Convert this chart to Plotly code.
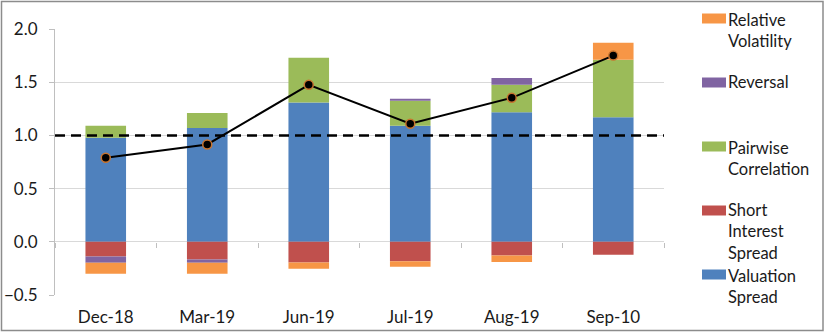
import plotly.graph_objects as go

categories = ["Dec-18", "Mar-19", "Jun-19", "Jul-19", "Aug-19", "Sep-10"]
valuation_spread = [0.977, 1.07, 1.31, 1.09, 1.218, 1.17]
short_interest_spread = [-0.138, -0.166, -0.195, -0.182, -0.129, -0.122]
pairwise_correlation = [0.113, 0.14, 0.42, 0.235, 0.257, 0.54]
reversal = [-0.059, -0.03, 0.0, 0.02, 0.065, 0.0]
relative_volatility = [-0.103, -0.104, -0.059, -0.053, -0.061, 0.16]
composite = [0.79, 0.915, 1.475, 1.11, 1.353, 1.75]
threshold = 1.0

series = [
    ("Valuation Spread", "Valuation<br>Spread", valuation_spread, "#4F81BD"),
    ("Short Interest Spread", "Short<br>Interest<br>Spread", short_interest_spread, "#C0504D"),
    ("Pairwise Correlation", "Pairwise<br>Correlation", pairwise_correlation, "#9BBB59"),
    ("Reversal", "Reversal", reversal, "#8064A2"),
    ("Relative Volatility", "Relative<br>Volatility", relative_volatility, "#F79646"),
]

W, H = 825, 332
ML, MR, MT, MB = 55, 161, 29, 37
PW, PH = W - ML - MR, H - MT - MB

def px_x(p):
    return (p - ML) / PW

def px_y(p):
    return (H - MB - p) / PH

FONT = "Lato, 'Open Sans', sans-serif"
TXT = "#1a1a1a"

fig = go.Figure()
for name, _, vals, color in series:
    fig.add_trace(go.Bar(x=categories, y=vals, name=name, marker_color=color,
                         marker_line_width=0, width=0.4, showlegend=False))

fig.add_trace(go.Scatter(x=categories, y=composite, mode="lines+markers",
                         xaxis="x2",
                         line=dict(color="black", width=2),
                         marker=dict(color="black", size=9,
                                     line=dict(color="#C8742F", width=1.5)),
                         showlegend=False, name="Composite"))

shapes = [
    dict(type="line", xref="paper", x0=0, x1=1, yref="y", y0=threshold, y1=threshold,
         line=dict(color="black", width=2.5, dash="10px,6px"), layer="above"),
    dict(type="rect", xref="paper", yref="paper", x0=px_x(1.5), x1=px_x(823),
         y0=px_y(330.5), y1=px_y(1.5), line=dict(color="#8c8c8c", width=1.5),
         fillcolor="rgba(0,0,0,0)"),
]
annotations = []
# manual legend (top to bottom)
legend_rows = [
    (series[4], 13.5, 30.3),
    (series[3], 77.5, 82.0),
    (series[2], 141.5, 158.0),
    (series[1], 205.5, 231.5),
    (series[0], 269.5, 286.0),
]
for (name, label, _, color), sw_top, text_mid in legend_rows:
    shapes.append(dict(type="rect", xref="paper", yref="paper",
                       x0=px_x(702), x1=px_x(726), y0=px_y(sw_top + 10), y1=px_y(sw_top),
                       fillcolor=color, line=dict(width=0)))
    annotations.append(dict(xref="paper", yref="paper", x=px_x(726), y=px_y(text_mid),
                            xanchor="left", yanchor="middle", align="left",
                            text=label, showarrow=False,
                            font=dict(family=FONT, size=16.5, color=TXT)))

fig.update_layout(
    width=W, height=H,
    margin=dict(l=ML, r=MR, t=MT, b=MB),
    barmode="relative",
    plot_bgcolor="white", paper_bgcolor="white",
    font=dict(family=FONT, size=17, color=TXT),
    shapes=shapes, annotations=annotations,
    xaxis=dict(type="category", showgrid=False, showline=False, ticks="",
               automargin=False, ticklabelstandoff=10, tickfont=dict(size=17)),
    xaxis2=dict(type="category", overlaying="x", matches="x", anchor="free",
                position=0.2, ticks="outside", tickson="boundaries", ticklen=5,
                tickcolor="#BFBFBF", showticklabels=False, showline=False,
                showgrid=False, automargin=False),
    yaxis=dict(range=[-0.5, 2.0], dtick=0.5, tickformat=".1f", showgrid=True,
               gridcolor="#D9D9D9", gridwidth=1, zeroline=False, automargin=False,
               showline=True, linecolor="#BFBFBF", linewidth=1,
               ticks="outside", ticklen=5, tickcolor="#BFBFBF",
               ticklabelstandoff=8, tickfont=dict(size=17)),
)

fig.write_html("out.html")
